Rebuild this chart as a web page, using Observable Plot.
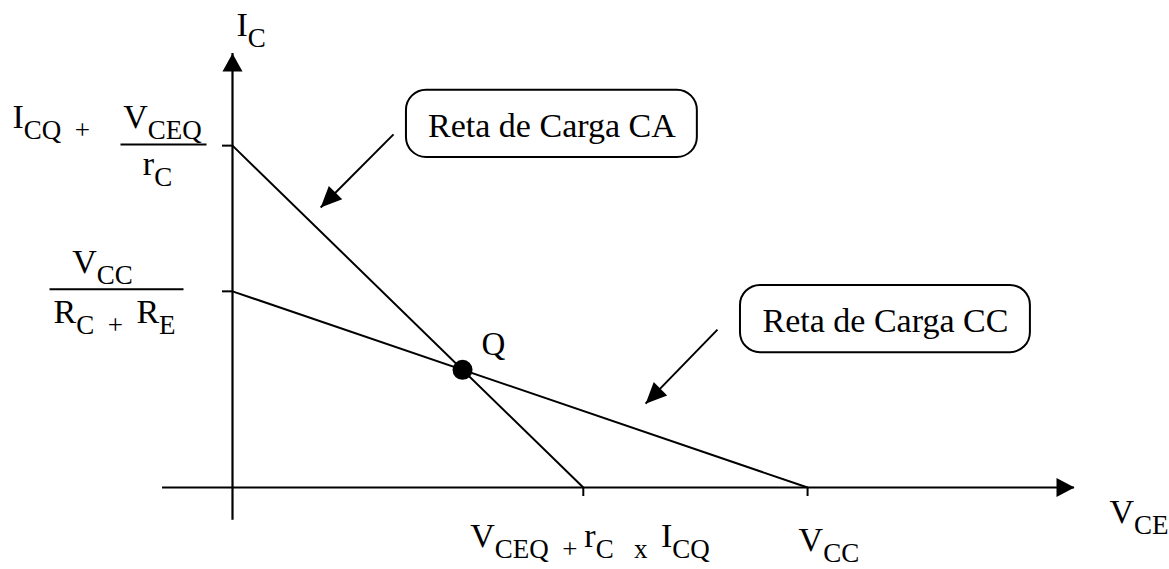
<!DOCTYPE html>
<html>
<head>
<meta charset="utf-8">
<script src="https://cdn.jsdelivr.net/npm/d3@7"></script>
<script src="https://cdn.jsdelivr.net/npm/@observablehq/plot@0.6"></script>
<style>
  html, body { margin: 0; padding: 0; background: #fff; }
  #chart svg g[aria-label*="axis"] line,
  #chart svg g[aria-label*="axis"] path { stroke-width: 2px; stroke: #000; }
</style>
</head>
<body>
<div id="chart"></div>
<script>
// Operating point of a common-emitter stage (volts, milliamps, kilohms)
const VCC = 12;          // supply voltage
const RC_RE = 3;         // R_C + R_E (DC load)
const rC = 1.05;         // AC load resistance r_C
const VCEQ = 4.8;        // quiescent V_CE
const ICQ = 2.4;         // quiescent I_C

const IDC = VCC / RC_RE;        // V_CC / (R_C + R_E)
const VAC = VCEQ + rC * ICQ;    // V_CEQ + r_C x I_CQ
const IAC = ICQ + VCEQ / rC;    // I_CQ + V_CEQ / r_C

// axis extents (V_CE in V, I_C in mA)
const axisX = [-1.46, 17.57];
const axisY = [-0.67, 8.85];

// load lines and Q point
const lineDC = [{vce: 0, ic: IDC}, {vce: VCC, ic: 0}];
const lineAC = [{vce: 0, ic: IAC}, {vce: VAC, ic: 0}];
const qPoint = [{vce: VCEQ, ic: ICQ}];

const xTicks = [VAC, VCC];
const yTicks = [IDC, IAC];

// callout boxes and their pointers, in chart units
const callouts = [
  {label: "Reta de Carga CA", x1: 3.63, x2: 9.70, y1: 6.73, y2: 8.10},
  {label: "Reta de Carga CC", x1: 10.60, x2: 16.65, y1: 2.75, y2: 4.12}
];
const pointers = [
  {x1: 3.36, y1: 7.20, x2: 1.84, y2: 5.71},
  {x1: 10.12, y1: 3.22, x2: 8.62, y2: 1.71}
];

// filled arrowhead with its tip at the origin, pointing along (ux, uy)
const head = (ux, uy, len, half) => ({
  draw(ctx) {
    const bx = -ux * len, by = -uy * len, px = -uy * half, py = ux * half;
    ctx.moveTo(0, 0);
    ctx.lineTo(bx + px, by + py);
    ctx.lineTo(bx - px, by - py);
    ctx.closePath();
  }
});
const headUp = head(0, -1, 18, 10);
const headRight = head(1, 0, 18, 9.5);
const headDownLeft = head(-Math.SQRT1_2, Math.SQRT1_2, 21, 9.5);
// horizontal fraction bar
const hbar = (w) => ({draw(ctx) { ctx.moveTo(-w / 2, 0); ctx.lineTo(w / 2, 0); }});

const serif = "'Liberation Serif', 'Times New Roman', serif";
const T = {fontFamily: serif, fontSize: 34, fill: "black", lineAnchor: "bottom"};
const zero = () => 0;
const ident = (d) => d;

const chart = Plot.plot({
  width: 1169,
  height: 569,
  marginLeft: 232,
  marginRight: 95,
  marginTop: 53,
  marginBottom: 82,
  style: {background: "white", color: "black"},
  x: {domain: [0, axisX[1]], ticks: xTicks, tickSize: 9, tickFormat: () => "", label: null},
  y: {domain: [0, axisY[1]], ticks: yTicks, tickSize: 10, tickFormat: () => "", label: null},
  marks: [
    // axes with arrowheads
    Plot.ruleY([0], {x1: axisX[0], x2: axisX[1], stroke: "black", strokeWidth: 2.2}),
    Plot.ruleX([0], {y1: axisY[0], y2: axisY[1], stroke: "black", strokeWidth: 2.2}),
    Plot.dot([axisX[1]], {x: ident, y: zero, symbol: headRight, fill: "black", stroke: "none"}),
    Plot.dot([axisY[1]], {x: zero, y: ident, symbol: headUp, fill: "black", stroke: "none"}),

    // load lines
    Plot.line(lineAC, {x: "vce", y: "ic", stroke: "black", strokeWidth: 2}),
    Plot.line(lineDC, {x: "vce", y: "ic", stroke: "black", strokeWidth: 2}),
    Plot.dot(qPoint, {x: "vce", y: "ic", r: 10, fill: "black", stroke: "none"}),
    Plot.text(qPoint, {x: "vce", y: "ic", text: () => "Q", textAnchor: "start", dx: 19, dy: -15, ...T, fontSize: 33}),

    // callouts
    Plot.rect(callouts, {x1: "x1", x2: "x2", y1: "y1", y2: "y2", rx: 20, fill: "white", stroke: "black", strokeWidth: 2}),
    Plot.text(callouts, {x: d => (d.x1 + d.x2) / 2, y: d => (d.y1 + d.y2) / 2, text: "label", ...T, lineAnchor: "middle", dy: 2}),
    Plot.link(pointers, {x1: "x1", y1: "y1", x2: "x2", y2: "y2", stroke: "black", strokeWidth: 2}),
    Plot.dot(pointers, {x: "x2", y: "y2", symbol: headDownLeft, fill: "black", stroke: "none"}),

    // axis titles
    Plot.text([axisY[1]], {x: zero, y: ident, text: () => "I_{C}", textAnchor: "start", dx: 4, dy: -18, ...T}),
    Plot.text([axisX[1]], {x: ident, y: zero, text: () => "V_{CE}", textAnchor: "start", dx: 35, dy: 35, ...T}),

    // I_CQ + V_CEQ / r_C
    Plot.text([IAC], {x: zero, y: ident, text: () => "I_{CQ  +}", textAnchor: "start", dx: -220, dy: -18, ...T}),
    Plot.text([IAC], {x: zero, y: ident, text: () => "V_{CEQ}", textAnchor: "middle", dx: -70, dy: -18, ...T}),
    Plot.dot([IAC], {x: zero, y: ident, symbol: hbar(86), dx: -69, dy: -1, fill: "none", stroke: "black", strokeWidth: 2}),
    Plot.text([IAC], {x: zero, y: ident, text: () => "r_{C}", textAnchor: "middle", dx: -75, dy: 29, ...T}),

    // V_CC / (R_C + R_E)
    Plot.text([IDC], {x: zero, y: ident, text: () => "V_{CC}", textAnchor: "middle", dx: -130, dy: -18, ...T}),
    Plot.dot([IDC], {x: zero, y: ident, symbol: hbar(134), dx: -116, dy: -2, fill: "none", stroke: "black", strokeWidth: 2}),
    Plot.text([IDC], {x: zero, y: ident, text: () => "R_{C  +  }R_{E}", textAnchor: "middle", dx: -118, dy: 32, ...T}),

    // V_CE tick labels
    Plot.text([VAC], {x: ident, y: zero, text: () => "V_{CEQ  + }r_{C   x  }I_{CQ}", textAnchor: "start", dx: -113, dy: 59, ...T}),
    Plot.text([VCC], {x: ident, y: zero, text: () => "V_{CC}", textAnchor: "start", dx: -9, dy: 63, ...T})
  ]
});

// turn "_{...}" runs into lowered, smaller tspans
const SUB_SIZE = 27, SUB_SHIFT = 11;
const NS = "http://www.w3.org/2000/svg";
chart.querySelectorAll("text").forEach((node) => {
  const src = node.textContent;
  if (!src.includes("_{")) return;
  node.textContent = "";
  node.setAttribute("xml:space", "preserve");
  node.style.whiteSpace = "pre";
  let lowered = false;
  const add = (t, sub) => {
    if (!t) return;
    const ts = document.createElementNS(NS, "tspan");
    ts.textContent = t;
    if (sub) {
      ts.setAttribute("font-size", SUB_SIZE);
      if (!lowered) ts.setAttribute("dy", SUB_SHIFT);
      lowered = true;
    } else if (lowered) {
      ts.setAttribute("dy", -SUB_SHIFT);
      lowered = false;
    }
    node.appendChild(ts);
  };
  const re = /_\{([^}]*)\}/g;
  let last = 0, m;
  while ((m = re.exec(src))) {
    add(src.slice(last, m.index), false);
    add(m[1], true);
    last = re.lastIndex;
  }
  add(src.slice(last), false);
});

document.getElementById("chart").appendChild(chart);
</script>
</body>
</html>
